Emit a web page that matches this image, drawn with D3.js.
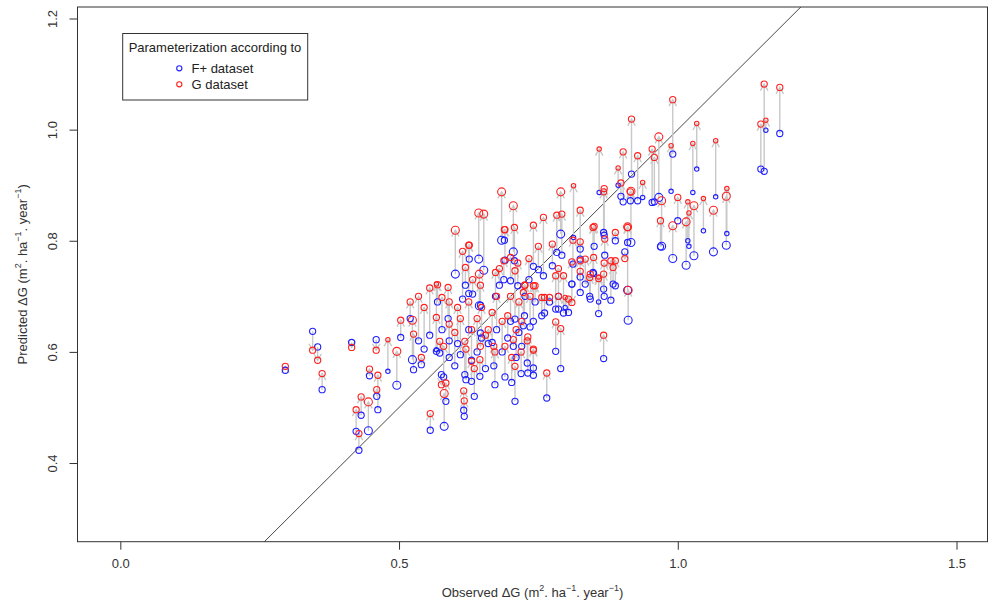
<!DOCTYPE html>
<html>
<head>
<meta charset="utf-8">
<script src="https://cdn.jsdelivr.net/npm/d3@7"></script>
<style>
  body { margin: 0; background: #fff; }
  svg { display: block; font-family: "Liberation Sans", Arial, sans-serif; }
</style>
</head>
<body>
<svg id="chart" width="988" height="601"></svg>
<script>
// observed growth, predictions with F+ parameters, predictions with G parameters, circle size class
const observed = [
  0.296, 0.345, 0.354, 0.362, 0.415, 0.459, 0.447, 0.480, 0.496, 0.503,
  0.524, 0.526, 0.540, 0.462, 0.460, 0.432, 0.423, 0.445, 0.428, 0.556,
  0.581, 0.584, 0.576, 0.567, 0.573, 0.618, 0.616, 0.617, 0.630, 0.645,
  0.672, 0.708, 0.702, 0.719, 0.667, 0.705, 0.646, 0.601, 0.643, 0.652,
  0.684, 0.705, 0.707, 0.690, 0.741, 0.759, 0.790, 0.783, 0.792, 0.813,
  0.825, 0.825, 0.848, 0.859, 0.867, 0.858, 0.868, 0.880, 0.911, 0.867,
  0.888, 0.915, 0.910, 0.567, 0.614, 0.625, 0.644, 0.688, 0.708, 0.723,
  0.741, 0.761, 0.781, 0.795, 0.810, 0.741, 0.765, 0.790, 0.741, 0.731,
  0.781, 1.149, 1.155, 1.158, 1.183, 0.991, 0.988, 1.034, 1.068, 1.027,
  1.088, 1.087, 1.064, 1.046, 1.029, 1.015, 1.000, 0.991, 0.971, 0.969,
  0.966, 0.954, 0.917, 0.902, 0.928, 0.916, 0.910, 0.958, 0.937, 0.893,
  0.898, 0.868, 1.020, 1.018, 0.775, 0.750, 0.733, 0.812, 0.825, 0.834,
  0.786, 0.850, 0.869, 0.888, 0.905, 0.849, 0.884, 0.867, 0.842, 0.858,
  0.810, 0.825, 0.843, 0.744, 0.756, 0.770, 0.786, 0.804, 0.798, 0.580,
  0.590, 0.600, 0.605, 0.610, 0.620, 0.625, 0.630, 0.635, 0.640, 0.648,
  0.655, 0.660, 0.670, 0.675, 0.685, 0.690, 0.695, 0.700, 0.710, 0.715,
  0.720, 0.725, 0.730, 0.735, 0.569, 0.588, 0.577, 0.626, 0.619, 0.632,
  0.646, 0.673, 0.680, 0.689, 0.700, 0.713, 0.726, 0.520, 0.535, 0.545,
  0.555, 0.590
];
const predF = [
  0.567, 0.637, 0.609, 0.532, 0.617, 0.622, 0.557, 0.565, 0.540, 0.626,
  0.586, 0.568, 0.577, 0.496, 0.520, 0.486, 0.457, 0.458, 0.423, 0.459,
  0.466, 0.511, 0.559, 0.601, 0.598, 0.559, 0.495, 0.484, 0.547, 0.556,
  0.541, 0.511, 0.545, 0.561, 0.617, 0.610, 0.634, 0.740, 0.767, 0.747,
  0.801, 0.780, 0.764, 0.765, 0.754, 0.737, 0.812, 0.779, 0.774, 0.806,
  0.785, 0.767, 0.743, 0.887, 0.815, 0.669, 0.700, 0.693, 0.657, 0.588,
  0.719, 0.872, 0.797, 0.604, 0.695, 0.705, 0.683, 0.730, 0.659, 0.647,
  0.655, 0.670, 0.677, 0.670, 0.722, 0.571, 0.517, 0.570, 0.558, 0.562,
  0.601, 0.929, 0.925, 0.999, 0.993, 0.956, 0.889, 0.929, 0.879, 0.887,
  0.813, 0.792, 0.780, 0.818, 0.773, 0.756, 0.836, 0.768, 0.790, 0.789,
  0.878, 0.869, 0.920, 0.870, 0.872, 0.797, 0.711, 0.870, 0.878, 0.900,
  0.880, 0.810, 0.790, 0.800, 0.755, 0.748, 0.730, 0.758, 0.735, 0.722,
  0.700, 0.790, 0.774, 0.800, 0.780, 0.741, 0.722, 0.713, 0.700, 0.690,
  0.722, 0.707, 0.695, 0.690, 0.665, 0.690, 0.677, 0.671, 0.680, 0.555,
  0.620, 0.575, 0.615, 0.595, 0.550, 0.640, 0.585, 0.520, 0.600, 0.625,
  0.570, 0.615, 0.575, 0.640, 0.600, 0.555, 0.625, 0.655, 0.590, 0.635,
  0.610, 0.665, 0.580, 0.645, 0.690, 0.660, 0.640, 0.767, 0.720, 0.704,
  0.684, 0.700, 0.720, 0.801, 0.728, 0.719, 0.700, 0.660, 0.620, 0.605,
  0.630, 0.590
];
const predG = [
  0.574, 0.603, 0.585, 0.561, 0.608, 0.603, 0.569, 0.622, 0.601, 0.657,
  0.657, 0.632, 0.590, 0.558, 0.532, 0.519, 0.496, 0.510, 0.453, 0.489,
  0.525, 0.544, 0.541, 0.662, 0.619, 0.619, 0.530, 0.512, 0.583, 0.586,
  0.600, 0.574, 0.590, 0.600, 0.671, 0.622, 0.610, 0.819, 0.850, 0.848,
  0.888, 0.863, 0.824, 0.820, 0.828, 0.842, 0.888, 0.846, 0.848, 0.899,
  0.855, 0.798, 0.824, 0.965, 0.888, 0.732, 0.760, 0.764, 0.711, 0.630,
  0.764, 0.888, 0.824, 0.722, 0.781, 0.792, 0.740, 0.764, 0.746, 0.707,
  0.719, 0.698, 0.737, 0.737, 0.689, 0.605, 0.562, 0.642, 0.603, 0.627,
  0.654, 1.010, 1.082, 1.017, 1.076, 1.054, 0.971, 1.011, 0.980, 0.975,
  0.894, 0.880, 0.855, 0.876, 0.863, 0.834, 0.878, 0.827, 0.872, 0.836,
  0.987, 0.965, 1.019, 0.960, 0.953, 0.889, 0.825, 0.950, 0.905, 0.931,
  0.904, 0.894, 0.850, 0.870, 0.794, 0.790, 0.768, 0.801, 0.764, 0.767,
  0.750, 0.826, 0.803, 0.815, 0.768, 0.770, 0.752, 0.740, 0.734, 0.735,
  0.762, 0.745, 0.740, 0.719, 0.698, 0.698, 0.700, 0.695, 0.698, 0.610,
  0.650, 0.635, 0.680, 0.660, 0.605, 0.690, 0.640, 0.570, 0.660, 0.680,
  0.630, 0.640, 0.610, 0.700, 0.655, 0.610, 0.665, 0.700, 0.640, 0.690,
  0.655, 0.720, 0.620, 0.700, 0.721, 0.716, 0.698, 0.792, 0.752, 0.730,
  0.720, 0.743, 0.750, 0.820, 0.770, 0.760, 0.720, 0.690, 0.700, 0.680,
  0.715, 0.690
];
const sizeClass = [
  2, 2, 2, 2, 2, 2, 2, 1, 3, 2, 3, 2, 2, 2, 2, 2, 2, 3, 2, 2,
  3, 2, 2, 2, 2, 2, 2, 2, 2, 2, 2, 2, 2, 2, 2, 2, 2, 3, 3, 3,
  3, 3, 2, 2, 2, 2, 3, 2, 2, 1, 2, 2, 2, 1, 2, 2, 2, 2, 3, 2,
  2, 2, 2, 1, 2, 2, 3, 2, 2, 2, 2, 2, 2, 2, 2, 2, 2, 2, 2, 2,
  2, 2, 2, 1, 2, 2, 1, 1, 1, 1, 1, 3, 3, 1, 3, 3, 2, 3, 3, 2,
  3, 2, 2, 2, 2, 3, 3, 2, 1, 1, 2, 2, 1, 1, 2, 2, 2, 2, 2, 2,
  2, 2, 2, 2, 2, 2, 2, 2, 2, 1, 2, 2, 2, 2, 2, 2, 2, 2, 1, 2,
  2, 2, 2, 2, 2, 2, 2, 2, 2, 2, 2, 2, 2, 2, 2, 2, 2, 2, 2, 2,
  2, 2, 2, 2, 2, 2, 2, 2, 2, 2, 2, 2, 2, 2, 2, 2, 2, 2, 2, 2,
  2, 2
];
const xTicks = [0, 0.5, 1.0, 1.5];
const yTicks = [0.4, 0.6, 0.8, 1.0, 1.2];
const legendTitle = "Parameterization according to";
const legendLabels = ["F+ dataset", "G dataset"];
const colF = "#2020ff", colG = "#ff2020", colArrow = "#c8c8c8";

const svg = d3.select("#chart");
const plot = { left: 77.5, right: 987.5, top: 7, bottom: 541.7 };

const x = d3.scaleLinear().domain([-0.0768, 1.5556]).range([plot.left, plot.right]);
const y = d3.scaleLinear().domain([0.2584, 1.2207]).range([plot.bottom, plot.top]);
const r = d3.scaleOrdinal().domain([1, 2, 3]).range([2.2, 3.1, 4.0]);

const pts = observed.map((o, i) => ({ o: o, f: predF[i], g: predG[i], s: sizeClass[i] }));

svg.append("clipPath").attr("id", "clip")
  .append("rect")
  .attr("x", plot.left).attr("y", plot.top)
  .attr("width", plot.right - plot.left).attr("height", plot.bottom - plot.top);

const inner = svg.append("g").attr("clip-path", "url(#clip)");

// 1:1 line
inner.append("line")
  .attr("x1", x(0)).attr("y1", y(0))
  .attr("x2", x(1.5)).attr("y2", y(1.5))
  .attr("stroke", "#333").attr("stroke-width", 0.9);

// arrows from F+ prediction to G prediction
const headLen = 7.5, headAng = Math.PI / 6;
const arrows = inner.append("g")
  .attr("stroke", colArrow).attr("stroke-width", 1.4).attr("fill", "none");
pts.forEach(d => {
  const x0 = x(d.o), y0 = y(d.f), y1 = y(d.g);
  arrows.append("line").attr("x1", x0).attr("y1", y0).attr("x2", x0).attr("y2", y1);
  const dir = y1 < y0 ? 1 : -1; // wings point back toward the start
  const dx = Math.sin(headAng) * headLen, dy = Math.cos(headAng) * headLen * dir;
  arrows.append("path")
    .attr("d", `M${x0 - dx},${y1 + dy}L${x0},${y1}L${x0 + dx},${y1 + dy}`);
});

inner.append("g").selectAll("circle")
  .data(pts).enter().append("circle")
  .attr("cx", d => x(d.o)).attr("cy", d => y(d.f))
  .attr("r", d => r(d.s))
  .attr("fill", "none").attr("stroke", colF).attr("stroke-width", 1.1);

inner.append("g").selectAll("circle")
  .data(pts).enter().append("circle")
  .attr("cx", d => x(d.o)).attr("cy", d => y(d.g))
  .attr("r", d => r(d.s))
  .attr("fill", "none").attr("stroke", colG).attr("stroke-width", 1.1);

// frame
svg.append("rect")
  .attr("x", plot.left).attr("y", plot.top)
  .attr("width", plot.right - plot.left).attr("height", plot.bottom - plot.top)
  .attr("fill", "none").attr("stroke", "#333").attr("stroke-width", 1);

// axes
const xAxis = svg.append("g")
  .attr("transform", `translate(0,${plot.bottom})`)
  .call(d3.axisBottom(x).tickValues(xTicks).tickFormat(d3.format(".1f")).tickSize(8).tickPadding(9));
const yAxis = svg.append("g")
  .attr("transform", `translate(${plot.left},0)`)
  .call(d3.axisLeft(y).tickValues(yTicks).tickFormat(d3.format(".1f")).tickSize(8).tickPadding(0));
[xAxis, yAxis].forEach(a => {
  a.select(".domain").remove();
  a.selectAll(".tick line").attr("stroke", "#333");
  a.selectAll("text").attr("fill", "#333").attr("font-size", 13)
    .attr("font-family", "Liberation Sans, Arial, sans-serif");
});
yAxis.selectAll(".tick text")
  .attr("x", 0).attr("dy", 0)
  .attr("text-anchor", "middle")
  .attr("transform", "translate(-21,0) rotate(-90)");

// axis titles with superscripts
function unitTitle(sel, lead) {
  sel.append("tspan").text(lead + " (m");
  sel.append("tspan").text("2").attr("font-size", 9).attr("dy", -6);
  sel.append("tspan").text(". ha").attr("dy", 6);
  sel.append("tspan").text("\u22121").attr("font-size", 9).attr("dy", -6);
  sel.append("tspan").text(". year").attr("dy", 6);
  sel.append("tspan").text("\u22121").attr("font-size", 9).attr("dy", -6);
  sel.append("tspan").text(")").attr("dy", 6);
}
unitTitle(svg.append("text")
  .attr("x", (plot.left + plot.right) / 2).attr("y", 597)
  .attr("text-anchor", "middle").attr("font-size", 13).attr("fill", "#333"),
  "Observed \u0394G");
unitTitle(svg.append("text")
  .attr("transform", `translate(27,${(plot.top + plot.bottom) / 2}) rotate(-90)`)
  .attr("text-anchor", "middle").attr("font-size", 13).attr("fill", "#333"),
  "Predicted \u0394G");

// legend
const lg = svg.append("g");
lg.append("rect")
  .attr("x", 122.7).attr("y", 33.5).attr("width", 185).attr("height", 66.5)
  .attr("fill", "#fff").attr("stroke", "#333").attr("stroke-width", 1);
lg.append("text").attr("x", 215).attr("y", 51.5)
  .attr("text-anchor", "middle").attr("font-size", 13).attr("fill", "#222")
  .text(legendTitle);
legendLabels.forEach((lab, i) => {
  const yy = 68.3 + i * 16;
  lg.append("circle").attr("cx", 179.3).attr("cy", yy).attr("r", 2.6)
    .attr("fill", "none").attr("stroke", i === 0 ? colF : colG).attr("stroke-width", 1.1);
  lg.append("text").attr("x", 191.5).attr("y", yy + 4.6)
    .attr("font-size", 13).attr("fill", "#222").text(lab);
});
</script>
</body>
</html>
